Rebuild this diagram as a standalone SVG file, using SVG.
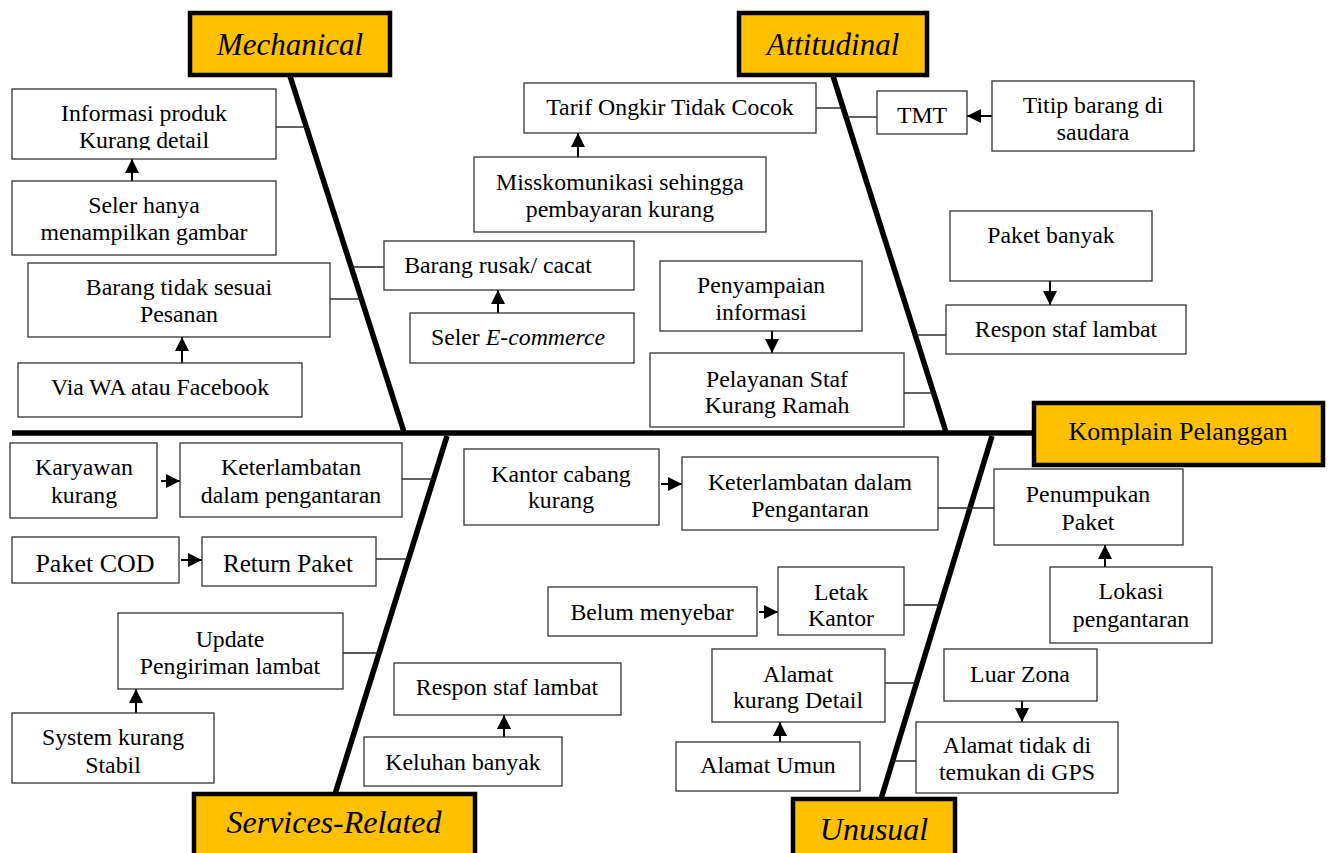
<svg xmlns="http://www.w3.org/2000/svg" width="1330" height="853" viewBox="0 0 1330 853">
<style>
text{font-family:"Liberation Serif","Times New Roman",serif;fill:#000;text-anchor:middle;font-size:23.8px}
.box{fill:#fff;stroke:#333;stroke-width:1.3}
.head{fill:#FFC000;stroke:#000;stroke-width:4.5}
.ht{font-size:31px;font-style:italic}
.bone{stroke:#000;stroke-width:5.5;fill:none}
.link{stroke:#222;stroke-width:1.4;fill:none}
.arr{stroke:#000;stroke-width:2;fill:none;marker-end:url(#ah)}
.big{font-size:26px}
</style>
<defs>
<marker id="ah" viewBox="0 0 10 10" refX="10" refY="5" markerWidth="14" markerHeight="14" markerUnits="userSpaceOnUse" orient="auto">
<path d="M0,0 L10,5 L0,10 z" fill="#000"/>
</marker>
<clipPath id="c1"><rect x="12" y="89" width="264" height="61"/></clipPath>
<clipPath id="c2"><rect x="778" y="567" width="126" height="60"/></clipPath>
</defs>
<rect width="1330" height="853" fill="#fff"/>

<g id="connectors">
<line class="bone" x1="12" y1="433" x2="1034" y2="433"/>
<line class="bone" x1="290" y1="76" x2="404" y2="432"/>
<line class="bone" x1="833" y1="76" x2="946" y2="432"/>
<line class="bone" x1="447" y1="436" x2="335" y2="794"/>
<line class="bone" x1="992" y1="436" x2="881" y2="799"/>
<line class="link" x1="276" y1="127" x2="306" y2="127"/>
<line class="link" x1="351" y1="267" x2="384" y2="267"/>
<line class="link" x1="330" y1="299" x2="361" y2="299"/>
<line class="link" x1="816" y1="108" x2="843" y2="108"/>
<line class="link" x1="846" y1="117" x2="877" y2="117"/>
<line class="link" x1="915" y1="335" x2="946" y2="335"/>
<line class="link" x1="904" y1="393" x2="934" y2="393"/>
<line class="link" x1="402" y1="479" x2="434" y2="479"/>
<line class="link" x1="376" y1="559" x2="408" y2="559"/>
<line class="link" x1="343" y1="653" x2="379" y2="653"/>
<line class="link" x1="938" y1="508" x2="994" y2="508"/>
<line class="link" x1="904" y1="605" x2="940" y2="605"/>
<line class="link" x1="885" y1="683" x2="916" y2="683"/>
<line class="link" x1="892" y1="761" x2="916" y2="761"/>
<line class="arr" x1="132" y1="181" x2="132" y2="159"/>
<line class="arr" x1="182" y1="363" x2="182" y2="337"/>
<line class="arr" x1="498" y1="313" x2="498" y2="290"/>
<line class="arr" x1="578" y1="157" x2="578" y2="133"/>
<line class="arr" x1="772" y1="331" x2="772" y2="353"/>
<line class="arr" x1="992" y1="116" x2="967" y2="116"/>
<line class="arr" x1="1050" y1="281" x2="1050" y2="305"/>
<line class="arr" x1="161" y1="481" x2="180" y2="481"/>
<line class="arr" x1="181" y1="560" x2="202" y2="560"/>
<line class="arr" x1="136" y1="713" x2="136" y2="689"/>
<line class="arr" x1="504" y1="737" x2="504" y2="715"/>
<line class="arr" x1="661" y1="484" x2="682" y2="484"/>
<line class="arr" x1="1105" y1="567" x2="1105" y2="545"/>
<line class="arr" x1="759" y1="612" x2="778" y2="612"/>
<line class="arr" x1="780" y1="742" x2="780" y2="722"/>
<line class="arr" x1="1022" y1="701" x2="1022" y2="722"/>
</g>

<g id="mechanical"><rect class="head" x="190" y="13" width="200" height="62"/><text class="ht" x="290" y="55">Mechanical</text></g>
<g id="attitudinal"><rect class="head" x="739" y="13" width="188" height="62"/><text class="ht" x="833" y="55">Attitudinal</text></g>
<g id="komplain"><rect class="head" x="1034" y="403" width="289" height="62"/><text x="1178" y="440" style="font-size:26px">Komplain Pelanggan</text></g>
<g id="services"><rect class="head" x="194" y="794" width="281" height="70"/><text class="ht" x="334" y="833" style="font-size:32px">Services-Related</text></g>
<g id="unusual"><rect class="head" x="793" y="799" width="162" height="70"/><text class="ht" x="874" y="840" style="font-size:32px">Unusual</text></g>

<g id="n-informasi"><rect class="box" x="12" y="89" width="264" height="70"/><g clip-path="url(#c1)"><text x="144" y="121">Informasi produk</text><text x="144" y="148">Kurang detail</text></g></g>
<g id="n-seler-gambar"><rect class="box" x="12" y="181" width="264" height="74"/><text x="144" y="213">Seler hanya</text><text x="144" y="240">menampilkan gambar</text></g>
<g id="n-barang-tidak"><rect class="box" x="28" y="263" width="302" height="74"/><text x="179" y="295">Barang tidak sesuai</text><text x="179" y="322">Pesanan</text></g>
<g id="n-via-wa"><rect class="box" x="18" y="363" width="284" height="54"/><text x="160" y="395">Via WA atau Facebook</text></g>
<g id="n-barang-rusak"><rect class="box" x="384" y="241" width="250" height="49"/><text x="498" y="273">Barang rusak/ cacat</text></g>
<g id="n-seler-ecom"><rect class="box" x="410" y="313" width="224" height="50"/><text x="518" y="345">Seler <tspan font-style="italic">E-commerce</tspan></text></g>
<g id="n-tarif"><rect class="box" x="524" y="83" width="292" height="50"/><text x="670" y="115">Tarif Ongkir Tidak Cocok</text></g>
<g id="n-miss"><rect class="box" x="474" y="157" width="292" height="75"/><text x="620" y="190">Misskomunikasi sehingga</text><text x="620" y="217">pembayaran kurang</text></g>
<g id="n-penyampaian"><rect class="box" x="660" y="261" width="202" height="70"/><text x="761" y="293">Penyampaian</text><text x="761" y="320">informasi</text></g>
<g id="n-pelayanan"><rect class="box" x="650" y="353" width="254" height="74"/><text x="777" y="387">Pelayanan Staf</text><text x="777" y="413">Kurang Ramah</text></g>
<g id="n-tmt"><rect class="box" x="877" y="91" width="90" height="43"/><text x="922" y="123">TMT</text></g>
<g id="n-titip"><rect class="box" x="992" y="81" width="202" height="70"/><text x="1093" y="113">Titip barang di</text><text x="1093" y="140">saudara</text></g>
<g id="n-paket-banyak"><rect class="box" x="950" y="211" width="202" height="70"/><text x="1051" y="243">Paket banyak</text></g>
<g id="n-respon-top"><rect class="box" x="946" y="305" width="240" height="49"/><text x="1066" y="337">Respon staf lambat</text></g>

<g id="n-karyawan"><rect class="box" x="10" y="443" width="147" height="75"/><text x="84" y="475">Karyawan</text><text x="84" y="503">kurang</text></g>
<g id="n-keterlambatan1"><rect class="box" x="180" y="443" width="222" height="74"/><text x="291" y="475">Keterlambatan</text><text x="291" y="503">dalam pengantaran</text></g>
<g id="n-paket-cod"><rect class="box" x="12" y="537" width="167" height="46"/><text class="big" x="95" y="572">Paket COD</text></g>
<g id="n-return"><rect class="box" x="202" y="537" width="174" height="49"/><text x="288" y="572" style="font-size:25px">Return Paket</text></g>
<g id="n-update"><rect class="box" x="118" y="613" width="225" height="76"/><text x="230" y="647">Update</text><text x="230" y="674">Pengiriman lambat</text></g>
<g id="n-system"><rect class="box" x="12" y="713" width="202" height="70"/><text x="113" y="745">System kurang</text><text x="113" y="773">Stabil</text></g>
<g id="n-respon-bottom"><rect class="box" x="394" y="663" width="227" height="52"/><text x="507" y="695">Respon staf lambat</text></g>
<g id="n-keluhan"><rect class="box" x="364" y="737" width="198" height="49"/><text x="463" y="770">Keluhan banyak</text></g>
<g id="n-kantor-cabang"><rect class="box" x="464" y="449" width="195" height="76"/><text x="561" y="482">Kantor cabang</text><text x="561" y="508">kurang</text></g>
<g id="n-keterlambatan2"><rect class="box" x="682" y="457" width="256" height="73"/><text x="810" y="490">Keterlambatan dalam</text><text x="810" y="517">Pengantaran</text></g>
<g id="n-penumpukan"><rect class="box" x="994" y="469" width="189" height="76"/><text x="1088" y="502">Penumpukan</text><text x="1088" y="530">Paket</text></g>
<g id="n-lokasi"><rect class="box" x="1050" y="567" width="162" height="76"/><text x="1131" y="599">Lokasi</text><text x="1131" y="627">pengantaran</text></g>
<g id="n-belum"><rect class="box" x="548" y="587" width="209" height="49"/><text x="652" y="620">Belum menyebar</text></g>
<g id="n-letak"><rect class="box" x="778" y="567" width="126" height="68"/><g clip-path="url(#c2)"><text x="841" y="600">Letak</text><text x="841" y="626">Kantor</text></g></g>
<g id="n-alamat-kurang"><rect class="box" x="712" y="649" width="173" height="73"/><text x="798" y="682">Alamat</text><text x="798" y="708">kurang Detail</text></g>
<g id="n-alamat-umun"><rect class="box" x="676" y="742" width="184" height="49"/><text x="768" y="773">Alamat Umun</text></g>
<g id="n-luar-zona"><rect class="box" x="944" y="649" width="153" height="52"/><text x="1020" y="682">Luar Zona</text></g>
<g id="n-alamat-gps"><rect class="box" x="916" y="722" width="202" height="71"/><text x="1017" y="753">Alamat tidak di</text><text x="1017" y="780">temukan di GPS</text></g>
</svg>
